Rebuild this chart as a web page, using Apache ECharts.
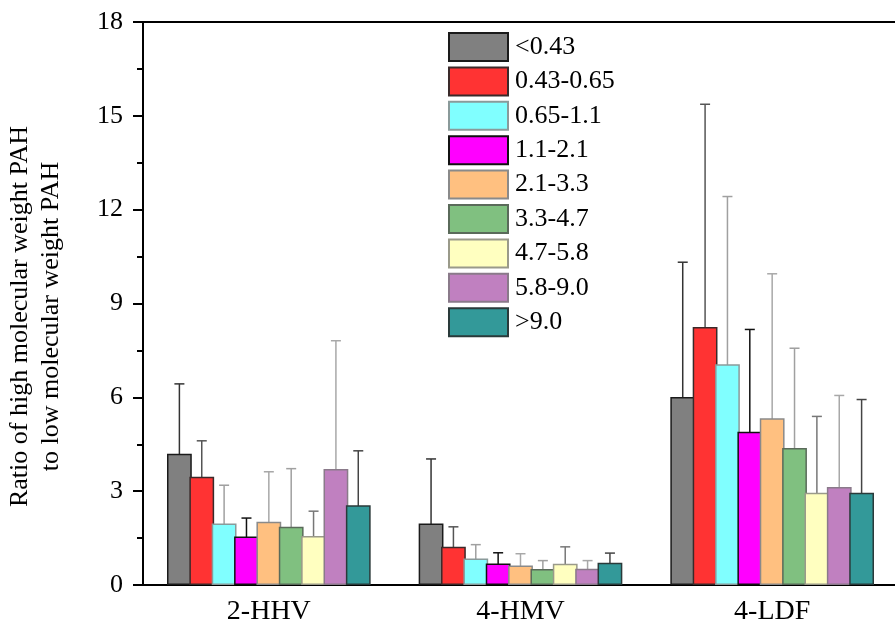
<!DOCTYPE html>
<html>
<head>
<meta charset="utf-8">
<script src="https://cdn.jsdelivr.net/npm/echarts@6/dist/echarts.min.js"></script>
<style>html,body{margin:0;padding:0;background:#fff}#c{width:895px;height:634px}</style>
</head>
<body>
<div id="c"></div>
<script>
const categories = ['2-HHV', '4-HMV', '4-LDF'];
const sizeRanges = ['<0.43', '0.43-0.65', '0.65-1.1', '1.1-2.1', '2.1-3.3', '3.3-4.7', '4.7-5.8', '5.8-9.0', '>9.0'];
const yTicks = [0, 3, 6, 9, 12, 15, 18];

const hhvMean = [4.20, 3.46, 1.97, 1.55, 2.02, 1.86, 1.57, 3.71, 2.55];
const hhvHigh = [6.43, 4.61, 3.19, 2.14, 3.62, 3.72, 2.36, 7.81, 4.29];
const hhvLow  = [1.93, 2.29, 0.75, 0.98, 0.42, 0.00, 0.78, 0.00, 0.79];

const hmvMean = [1.97, 1.22, 0.85, 0.69, 0.62, 0.51, 0.68, 0.52, 0.71];
const hmvHigh = [4.03, 1.86, 1.29, 1.03, 1.00, 0.78, 1.22, 0.78, 1.02];
const hmvLow  = [0.00, 0.57, 0.42, 0.35, 0.25, 0.27, 0.14, 0.27, 0.42];

const ldfMean = [6.01, 8.25, 7.06, 4.90, 5.33, 4.38, 2.95, 3.13, 2.95];
const ldfHigh = [10.32, 15.37, 12.42, 8.17, 9.95, 7.57, 5.39, 6.06, 5.93];
const ldfLow  = [1.71, 1.11, 1.68, 1.61, 0.65, 1.17, 0.51, 0.22, 0.00];

const fillColors   = ['#808080', '#ff3333', '#80ffff', '#ff00ff', '#ffc080', '#80c080', '#ffffc0', '#c080c0', '#339999'];
const borderColors = ['#1a1a1a', '#3a2a2a', '#8a9a9a', '#111111', '#8a8a8a', '#5a6a5a', '#9a9a8a', '#8a7a8a', '#2a3a3a'];
const errColors    = ['#333333', '#555555', '#a0a0a0', '#111111', '#a8a8a8', '#a0a0a0', '#777777', '#a8a8a8', '#444444'];

const means = [hhvMean, hmvMean, ldfMean];
const highs = [hhvHigh, hmvHigh, ldfHigh];
const lows  = [hhvLow, hmvLow, ldfLow];

const FONT = '"Liberation Serif", "Times New Roman", serif';
const N = sizeRanges.length;
const BAR_W = 0.0985;
const BAR_GAP = -0.098;

const barSeries = sizeRanges.map((name, s) => ({
  name: name,
  type: 'bar',
  barWidth: (BAR_W * 100) + '%',
  barGap: (BAR_GAP * 100) + '%',
  data: categories.map((c, k) => means[k][s]),
  itemStyle: { color: fillColors[s], borderColor: borderColors[s], borderWidth: 1.5 }
}));

const errData = [];
categories.forEach((c, k) => {
  sizeRanges.forEach((n, s) => {
    errData.push([k, s, lows[k][s], highs[k][s]]);
  });
});

const errSeries = {
  type: 'custom',
  name: 'err',
  silent: true,
  encode: { x: 0, y: [2, 3] },
  data: errData,
  renderItem: function (params, api) {
    const k = api.value(0), s = api.value(1);
    const lo = api.value(2), hi = api.value(3);
    const band = api.size([1, 0])[0];
    const w = band * BAR_W;
    const period = w * (1 + BAR_GAP);
    const groupW = w * N + w * BAR_GAP * (N - 1);
    const cx = api.coord([k, 0])[0] - groupW / 2 + w / 2 + period * s;
    const yLo = api.coord([k, lo])[1];
    const yHi = api.coord([k, hi])[1];
    const cap = 5;
    const style = { stroke: errColors[s], lineWidth: 1.5 };
    const children = [
      { type: 'line', shape: { x1: cx, y1: yLo, x2: cx, y2: yHi }, style: style },
      { type: 'line', shape: { x1: cx - cap, y1: yHi, x2: cx + cap, y2: yHi }, style: style }
    ];
    if (lo > 0) children.push({ type: 'line', shape: { x1: cx - cap, y1: yLo, x2: cx + cap, y2: yLo }, style: style });
    return { type: 'group', children: children };
  }
};

const chart = echarts.init(document.getElementById('c'), null, { renderer: 'canvas' });
chart.setOption({
  animation: false,
  backgroundColor: '#fff',
  textStyle: { fontFamily: FONT },
  grid: { left: 143, right: -3, top: 22, bottom: 49, containLabel: false, outerBoundsMode: 'none' },
  legend: {
    orient: 'vertical',
    left: 448,
    top: 32,
    padding: 0,
    itemWidth: 59,
    itemHeight: 28,
    itemGap: 4.4,
    icon: 'rect',
    data: sizeRanges,
    textStyle: { fontFamily: FONT, fontSize: 26, color: '#000', padding: [0, 0, 0, 2] },
    selectedMode: false
  },
  xAxis: [
    {
      type: 'category',
      data: categories,
      position: 'bottom',
      axisLine: { lineStyle: { color: '#000', width: 2 } },
      axisTick: { alignWithLabel: true, length: 11, lineStyle: { color: '#000', width: 2 } },
      axisLabel: { fontFamily: FONT, fontSize: 28, color: '#000', margin: 13 },
      splitLine: { show: false }
    },
    {
      type: 'category',
      data: categories,
      position: 'bottom',
      axisLine: { show: false },
      axisTick: { alignWithLabel: false, length: 6, lineStyle: { color: '#000', width: 2 } },
      axisLabel: { show: false },
      splitLine: { show: false }
    },
    {
      type: 'category',
      data: categories,
      position: 'top',
      axisLine: { lineStyle: { color: '#000', width: 2 } },
      axisTick: { show: false },
      axisLabel: { show: false },
      splitLine: { show: false }
    }
  ],
  yAxis: {
    type: 'value',
    min: yTicks[0],
    max: yTicks[yTicks.length - 1],
    interval: yTicks[1] - yTicks[0],
    name: 'Ratio of high molecular weight PAH\nto low molecular weight PAH',
    nameLocation: 'middle',
    nameGap: 76,
    nameTextStyle: { fontFamily: FONT, fontSize: 26, color: '#000', lineHeight: 31, padding: [0, 26, 0, 0] },
    axisLine: { show: true, lineStyle: { color: '#000', width: 2 } },
    axisTick: { show: true, length: 10, lineStyle: { color: '#000', width: 2 } },
    minorTick: { show: true, splitNumber: 2, length: 6, lineStyle: { color: '#000', width: 2 } },
    axisLabel: { fontFamily: FONT, fontSize: 26, color: '#000', margin: 20 },
    splitLine: { show: false },
    minorSplitLine: { show: false }
  },
  series: barSeries.concat([errSeries])
});
</script>
</body>
</html>
